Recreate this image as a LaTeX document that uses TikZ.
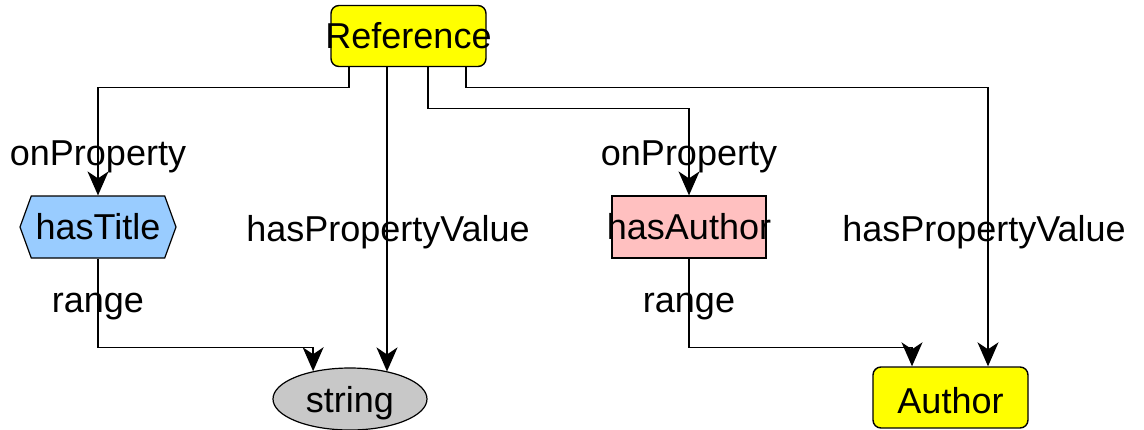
\documentclass[tikz,border=0pt]{standalone}
\usepackage{fontspec}
\setmainfont{Liberation Sans}
\usetikzlibrary{arrows.meta,shapes.geometric,shapes.symbols}
\definecolor{classyellow}{HTML}{FFFF00}
\definecolor{propblue}{HTML}{99CCFF}
\definecolor{proppink}{HTML}{FFC0C0}
\definecolor{litgray}{HTML}{C8C8C8}

\begin{document}
\begin{tikzpicture}[x=1pt, y=-1pt,
		every node/.style={font=\fontsize{36}{42}\selectfont, inner sep=0pt},
		classbox/.style={draw, line width=1.4pt, fill=classyellow, rounded corners=8pt, minimum width=155pt, minimum height=61pt},
		objbox/.style={draw, line width=1.2pt, fill=proppink, minimum width=154pt, minimum height=62pt},
		databox/.style={draw, line width=1.2pt, fill=propblue, signal, signal to=west and east, signal pointer angle=140, minimum width=156pt, minimum height=62pt},
		litbox/.style={draw, line width=1.2pt, fill=litgray, ellipse, minimum width=154pt, minimum height=62pt},
		link/.style={draw, line width=1.4pt, -{Stealth[length=24pt, width=21pt, inset=7pt]}}]
				\useasboundingbox (0,0) rectangle (1144,429);
				
				\node[classbox] (ref) at (408.5,36) {\makebox[0pt]{Reference}};
				\node[databox] (ht) at (98,227) {hasTitle};
				\node[objbox] (ha) at (689,227) {\makebox[0pt]{hasAuthor}};
				\node[litbox, text depth=0pt] (str) at (350,399) {string};
				\node[classbox, text height=31pt, text depth=0pt] (auth) at (950.5,397.5) {Author};
				
				\draw[link] ([xshift=-59.5]ref.south) -- ++(0,20) -| (ht.north);
				\draw[link] ([xshift=-21.5]ref.south) coordinate (mid) -- (mid |- str.36.3);
				\draw[link] ([xshift=19.5]ref.south) -- ++(0,41) -| (ha.north);
				\draw[link] ([xshift=57.5]ref.south) -- ++(0,20) -| ([xshift=37.5]auth.north);
				\draw[link] (ht.south) -- ++(0,89) -| (str.143.7);
				\draw[link] (ha.south) -- ++(0,89) -| ([xshift=-38.5]auth.north);
				
				\node (op1) at (98,157) {onProperty};
				\node (op2) at (689,157) {onProperty};
				\node (pv1) at (388,232) {hasPropertyValue};
				\node (pv2) at (984,232) {hasPropertyValue};
				\node (rg1) at (98,307) {range};
				\node (rg2) at (689,307) {range};
\end{tikzpicture}
\end{document}
